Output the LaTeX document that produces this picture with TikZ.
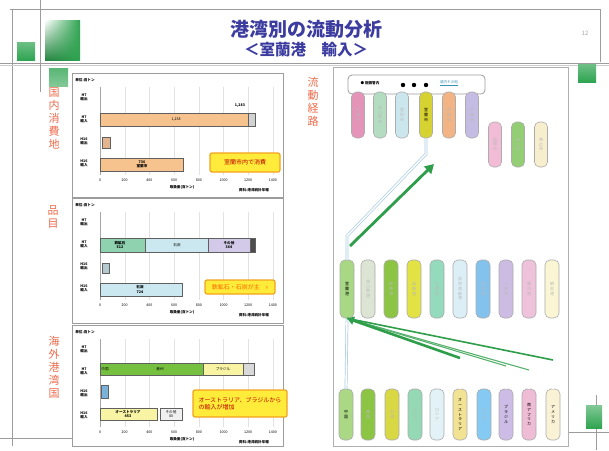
\documentclass[tikz,border=0pt]{standalone}
\usepackage{fontspec}
\setmainfont{Noto Sans CJK JP}
\usetikzlibrary{arrows.meta,shadings}

% palette
\definecolor{titleblue}{HTML}{3C3CA0}
\definecolor{labelred}{HTML}{EE6A4A}
\definecolor{framegray}{HTML}{9C9C9C}
\definecolor{gridgray}{HTML}{E2E2E2}
\definecolor{flowgreen}{HTML}{2E9E4A}
\definecolor{flowblue}{HTML}{A8CCE4}
\definecolor{noteyellow}{HTML}{FFEC3A}
\definecolor{noteorange}{HTML}{F2A21E}
\definecolor{decogreen}{HTML}{2FA451}
\definecolor{barorange}{HTML}{F6C28E}
\definecolor{bartan}{HTML}{E2B490}
\definecolor{barteal}{HTML}{8ED2B0}
\definecolor{barsky}{HTML}{CBE8F0}
\definecolor{barlav}{HTML}{D2CAE8}
\definecolor{bargreen}{HTML}{76C040}
\definecolor{barlemon}{HTML}{F8F4A4}
\definecolor{barblue}{HTML}{7AB2DA}
% route pills
\definecolor{pA}{HTML}{E494B8}\definecolor{pB}{HTML}{B4DCC0}\definecolor{pC}{HTML}{CCE6EE}
\definecolor{pD}{HTML}{D6D232}\definecolor{pE}{HTML}{F2B484}\definecolor{pF}{HTML}{C4BCE2}
\definecolor{pG}{HTML}{F2BCD6}\definecolor{pH}{HTML}{94CE74}\definecolor{pI}{HTML}{F6EECC}
\definecolor{m1}{HTML}{A8D884}\definecolor{m2}{HTML}{DCE4D4}\definecolor{m3}{HTML}{8CC444}
\definecolor{m4}{HTML}{E2E244}\definecolor{m5}{HTML}{94DABC}\definecolor{m6}{HTML}{DCEEF6}
\definecolor{m7}{HTML}{84C2EE}\definecolor{m8}{HTML}{CCBCE4}\definecolor{m9}{HTML}{EEC2DA}
\definecolor{m10}{HTML}{FAF6D4}
\definecolor{b1}{HTML}{AAD884}\definecolor{b2}{HTML}{8CC444}\definecolor{b3}{HTML}{D8D844}
\definecolor{b4}{HTML}{94D8B4}\definecolor{b5}{HTML}{E2F2F6}\definecolor{b6}{HTML}{F2E294}
\definecolor{b7}{HTML}{84CAF2}\definecolor{b8}{HTML}{CCBCE6}\definecolor{b9}{HTML}{EEBCD4}
\definecolor{b10}{HTML}{FAF2D4}

\tikzset{
  pill/.style={draw=gray!65, rounded corners=5pt, minimum width=13pt, inner sep=0pt,
    line width=0.6pt, align=center, font=\fontsize{4}{4.8}\selectfont},
  vlabel/.style={text=labelred, font=\fontsize{11}{13}\selectfont, align=center, inner sep=0pt},
  tiny/.style={font=\fontsize{3.6}{4.2}\selectfont, inner sep=0pt},
  tinyb/.style={font=\fontsize{3.6}{4.2}\selectfont\bfseries, inner sep=0pt},
  bar/.style={draw=gray!75!black, line width=0.5pt},
  note/.style={draw=noteorange, fill=noteyellow, line width=1.2pt, rounded corners=2pt,
    text=red!75!black, font=\fontsize{6}{7.4}\selectfont, align=left, inner sep=2pt},
  pipe/.style={draw=flowblue, line width=0.7pt, double=white, double distance=1.4pt},
  deco/.style={draw=framegray, line width=0.8pt},
}

% frame, grid, ticks and row captions of one bar chart
\newcommand\chartbase[3]{% #1 top edge, #2 height, #3 name prefix
  \begin{scope}[shift={(72,#1)}]
    \draw[framegray, line width=0.9pt, fill=white] (0,0) rectangle (211,#2);
    \node[tinyb] (#3unit) at (13,7) {単位:百トン};
    \foreach \k in {1,...,7}
      \draw[gridgray] ({28+24.7*\k},14) -- ({28+24.7*\k},102);
    \draw[gray!70] (28,14) -- (28,102);
    \foreach \k/\v in {0/0,1/200,2/400,3/600,4/800,5/1000,6/1200,7/1400}
      \node[tiny] (#3tick\k) at ({28+24.7*\k},107) {\v};
    \foreach \k/\y/\t in {1/24/{H7\\輸出},2/46/{H7\\輸入},3/68/{H16\\輸出},4/90/{H16\\輸入}}
      \node[tinyb, align=center] (#3row\k) at (12,\y) {\t};
    \node[tinyb] (#3axis) at (110,114) {取扱量(百トン)};
    \node[tinyb] (#3src) at (182,117) {資料:港湾統計年報};
  \end{scope}}

\begin{document}
\begin{tikzpicture}[x=1pt,y=-1pt]
\useasboundingbox (0,0) rectangle (609,450);
\fill[white] (0,0) rectangle (609,450);

% slide frame and ornaments
\draw[deco] (10,9) -- (600,9);
\draw[deco] (12,9) -- (12,446);
\draw[deco] (600,9) -- (600,62);
\draw[deco] (0,63) -- (609,63);
\draw[gray!40, line width=0.5pt] (0,65.5) -- (609,65.5);
\draw[deco] (40,0) -- (40,92);
\draw[deco] (0,438) -- (72,438);
\draw[deco] (568,432) -- (609,432);
\draw[deco] (596,395) -- (596,450);
\shade[upper left=white, upper right=decogreen, lower left=decogreen!80!black, lower right=decogreen] (45,20) rectangle (80,60);
\shade[top color=decogreen!70, bottom color=decogreen] (17,42) rectangle (35,60);
\shade[top color=decogreen!80!white, bottom color=decogreen!60] (49,68) rectangle (68,86);
\shade[top color=decogreen!70, bottom color=decogreen] (578,64) rectangle (596,82);
\shade[top color=decogreen!60, bottom color=decogreen] (586,405) rectangle (602,428);

% title
\node[text=titleblue, font=\fontsize{19}{21}\selectfont\bfseries] (title) at (306,29) {港湾別の流動分析};
\node[text=titleblue, font=\fontsize{15.5}{17}\selectfont\bfseries] (subtitle) at (306,50) {＜室蘭港　輸入＞};
\node[text=gray!70, font=\fontsize{6}{7}\selectfont] (pageno) at (585,33) {12};

% side captions
\node[vlabel] (capdest) at (54,118) {国\\内\\消\\費\\地};
\node[vlabel] (capitem) at (53,217) {品\\目};
\node[vlabel] (caporig) at (54,367) {海\\外\\港\\湾\\国};
\node[vlabel] (caproute) at (313,102) {流\\動\\経\\路};

% chart 1: destinations
\chartbase{73}{124}{ca}
\draw[bar, fill=barorange] (100,113) rectangle (248,126);
\draw[bar, fill=gray!35] (248,113) rectangle (255,126);
\node[tinyb] (ca1) at (240,106) {1,283};
\node[tiny] (ca2) at (176,119.5) {1,238};
\draw[bar, fill=bartan] (102,137) rectangle (110,148);
\draw[bar, fill=barorange] (100,158) rectangle (183,171);
\node[tinyb, align=center] (ca3) at (142,164.5) {736\\室蘭市};
\node[note, minimum width=70pt, minimum height=19pt] (canote) at (245,162.5) {室蘭市内で消費};

% chart 2: commodities
\chartbase{198}{125}{cb}
\draw[bar, fill=barteal] (100,238) rectangle (145,252);
\draw[bar, fill=barsky] (145,238) rectangle (208,252);
\draw[bar, fill=barlav] (208,238) rectangle (250,252);
\draw[bar, fill=gray!60!black] (250,238) rectangle (255,252);
\node[tinyb, align=center] (cb1) at (120,245) {鉄鉱石\\512};
\node[tiny] (cb2) at (177,245) {石炭};
\node[tinyb, align=center] (cb3) at (229,245) {その他\\364};
\draw[bar, fill=barsky!70!gray] (102,263) rectangle (109,273);
\draw[bar, fill=barsky] (100,283) rectangle (182,296);
\node[tinyb, align=center] (cb4) at (140,289.5) {石炭\\724};
\node[note, text=orange!80!red, minimum width=70pt, minimum height=14pt] (cbnote) at (240,287) {鉄鉱石・石炭が主　\textbf{›}};

% chart 3: overseas origins
\chartbase{325}{121}{cc}
\draw[bar, fill=bargreen] (100,363) rectangle (203,375);
\draw[bar, fill=barlemon] (203,363) rectangle (243,375);
\draw[bar, fill=gray!30] (243,363) rectangle (254,375);
\node[tiny] (cc1) at (105,369) {中国};
\node[tiny] (cc2) at (160,369) {豪州};
\node[tiny] (cc3) at (223,369) {ブラジル};
\draw[bar, fill=barblue] (101,385) rectangle (108,398);
\draw[bar, fill=barlemon] (100,408) rectangle (157,420);
\draw[bar, fill=gray!12] (160,408) rectangle (182,420);
\node[tinyb, align=center] (cc4) at (128,414) {オーストラリア\\453};
\node[tiny, align=center] (cc5) at (171,414) {その他\\80};
\node[note, minimum width=94pt, minimum height=27pt] (ccnote) at (240,403.5) {オーストラリア、ブラジルから\\の輸入が増加};

% route panel
\draw[framegray!80, line width=0.8pt] (333,67) rectangle (568,446);
\draw[framegray, line width=0.8pt, rounded corners=4pt, fill=white] (348,75) rectangle (485,94);
\node[tinyb] (grouptag) at (370,83.5) {● 胆振管内};
\foreach \x [count=\i] in {403,414,426}
  \fill (\x,85) circle (2.2pt) coordinate (dot\i);
\node[tiny, text=cyan!70!black] (othertag) at (449,83) {\underline{道内その他}};

% destination pills
\foreach \i/\x/\c/\t/\tc in {
  1/358/pA/{札\\幌\\市}/gray!55,
  2/380/pB/{苫\\小\\牧\\市}/gray!55,
  3/402/pC/{登\\別\\市}/gray!55,
  4/426/pD/{室\\蘭\\市}/black,
  5/449/pE/{伊\\達\\市}/gray!55,
  6/472/pF/{千\\歳\\市}/gray!55}
  \node[pill, fill=\c, text=\tc, minimum height=46pt] (top\i) at (\x,115) {\t};
\foreach \i/\x/\c/\t in {
  7/495/pG/{函\\館\\市},
  8/518/pH/{旭\\川\\市},
  9/541/pI/{帯\\広\\市}}
  \node[pill, fill=\c, text=gray!55, minimum height=45pt] (top\i) at (\x,144.5) {\t};

% port pills
\foreach \i/\x/\c/\t/\tc in {
  1/347/m1/{室\\蘭\\港}/black,
  2/368/m2/{苫\\小\\牧\\港}/gray!55,
  3/391/m3/{釧\\路\\港}/gray!55,
  4/414/m4/{函\\館\\港}/gray!55,
  5/437/m5/{小\\樽\\港}/gray!55,
  6/460/m6/{石\\狩\\湾\\新\\港}/gray!55,
  7/483/m7/{留\\萌\\港}/gray!55,
  8/506/m8/{十\\勝\\港}/gray!55,
  9/529/m9/{稚\\内\\港}/gray!55,
  10/552/m10/{網\\走\\港}/gray!55}
  \node[pill, fill=\c, text=\tc, minimum width=14pt, minimum height=58pt] (mid\i) at (\x,289) {\t};

% overseas pills
\foreach \i/\x/\c/\t/\tc in {
  1/346/b1/{中\\国}/black,
  2/368/b2/{韓\\国}/gray!55,
  3/392/b3/{台\\湾}/gray!55,
  4/415/b4/{イ\\ン\\ド}/gray!55,
  5/437/b5/{ロ\\シ\\ア}/gray!55,
  6/460/b6/{オ\\ー\\ス\\ト\\ラ\\リ\\ア}/black,
  7/484/b7/{カ\\ナ\\ダ}/gray!55,
  8/506/b8/{ブ\\ラ\\ジ\\ル}/black,
  9/529/b9/{南\\ア\\フ\\リ\\カ}/black,
  10/553/b10/{ア\\メ\\リ\\カ}/black}
  \node[pill, fill=\c, text=\tc, minimum width=14pt, minimum height=51pt] (bot\i) at (\x,414.5) {\t};

% flows from overseas into the port
\coordinate (e6) at (460,358);
\coordinate (e8) at (506,366);
\coordinate (e9) at (529,370);
\coordinate (e10) at (553,360);
\draw[pipe] (bot1.north) -- (mid1.south);
\draw[pipe] (bot6.north) -- (e6);
\draw[pipe] (bot8.north) -- (e8);
\draw[pipe] (bot9.north) -- (e9);
\draw[pipe] (bot10.north) -- (e10);
\draw[flowgreen!80, line width=1.1pt] (e8) -- (mid1.south);
\draw[flowgreen!80, line width=1.1pt] (e9) -- (mid1.south);
\draw[flowgreen, line width=1.6pt] (e10) -- (mid1.south);
\draw[flowgreen, line width=2.6pt, -{Triangle[length=7pt,width=8pt]}] (e6) -- (mid1.south);

% flow from the port to the consumption area
\coordinate (u1) at (347,236);
\coordinate (u2) at (426,154);
\draw[pipe] (mid1.north) -- (u1) -- (u2) -- (top4.south);
\coordinate (ga) at (350,246);
\coordinate (gb) at (434,164);
\draw[flowgreen, line width=2.8pt, -{Triangle[length=9pt,width=10pt]}] (ga) -- (gb);
\end{tikzpicture}
\end{document}
